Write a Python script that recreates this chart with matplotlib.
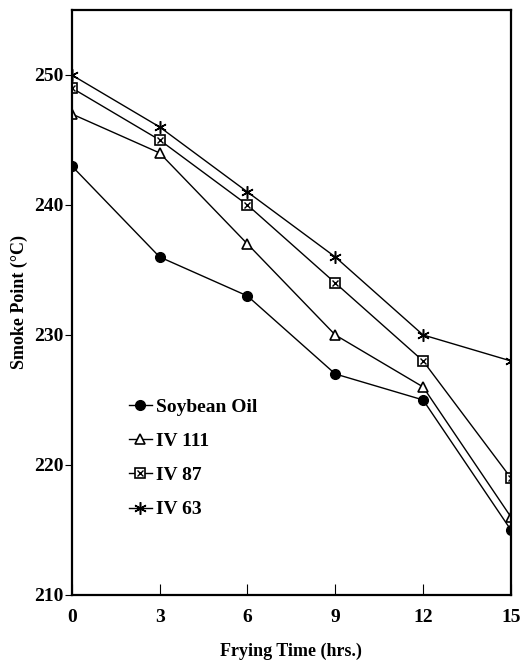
import matplotlib
matplotlib.use('Agg')
from matplotlib import pyplot as plt

# values
hours = [0, 3, 6, 9, 12, 15]
soybean = [243, 236, 233, 227, 225, 215]
iv111 = [247, 244, 237, 230, 226, 216]
iv87 = [249, 245, 240, 234, 228, 219]
iv63 = [250, 246, 241, 236, 230, 228]
xticks = [0, 3, 6, 9, 12, 15]
yticks = [210, 220, 230, 240, 250]

plt.rcParams['font.family'] = ['Liberation Serif', 'DejaVu Serif']
plt.rcParams['font.weight'] = 'bold'

fig = plt.figure(figsize=(5.24, 6.64), dpi=100)
ax = fig.add_axes([0.137, 0.104, 0.838, 0.881])

lw = 1.0
h1, = ax.plot(hours, soybean, color='black', lw=lw, marker='o', ms=7, mfc='black', mec='black')
h2, = ax.plot(hours, iv111, color='black', lw=lw, marker='^', ms=6.5, mfc='white', mec='black', mew=1.2)
h3a, = ax.plot(hours, iv87, color='black', lw=lw, marker='s', ms=7, mfc='white', mec='black', mew=1.2)
h3b, = ax.plot(hours, iv87, color='none', lw=0, marker='x', ms=5, mec='black', mew=1.0)
h4, = ax.plot(hours, iv63, color='black', lw=lw, marker=(6, 2, 0), ms=9, mec='black', mew=1.1)

ax.set_xlim(0, 15)
ax.set_ylim(210, 255)
ax.set_xticks(xticks)
ax.set_yticks(yticks)
ax.tick_params(axis='x', direction='in', length=8, labelsize=14, pad=10)
ax.tick_params(axis='y', direction='out', length=5, labelsize=14, pad=1)
for lab in ax.get_xticklabels() + ax.get_yticklabels():
    lab.set_fontweight('bold')
for s in ax.spines.values():
    s.set_linewidth(1.6)

ax.set_xlabel('Frying Time (hrs.)', fontsize=13, fontweight='bold', labelpad=12)
ax.set_ylabel('Smoke Point (°C)', fontsize=13, fontweight='bold', labelpad=4)

leg = ax.legend([h1, h2, (h3a, h3b), h4], ['Soybean Oil', 'IV 111', 'IV 87', 'IV 63'],
                loc='upper left', bbox_to_anchor=(0.09, 0.366), frameon=False,
                prop={'family': 'Liberation Serif', 'weight': 'bold', 'size': 14},
                handlelength=1.2, handletextpad=0.2, labelspacing=0.85)

fig.savefig('out.png', dpi=100)
